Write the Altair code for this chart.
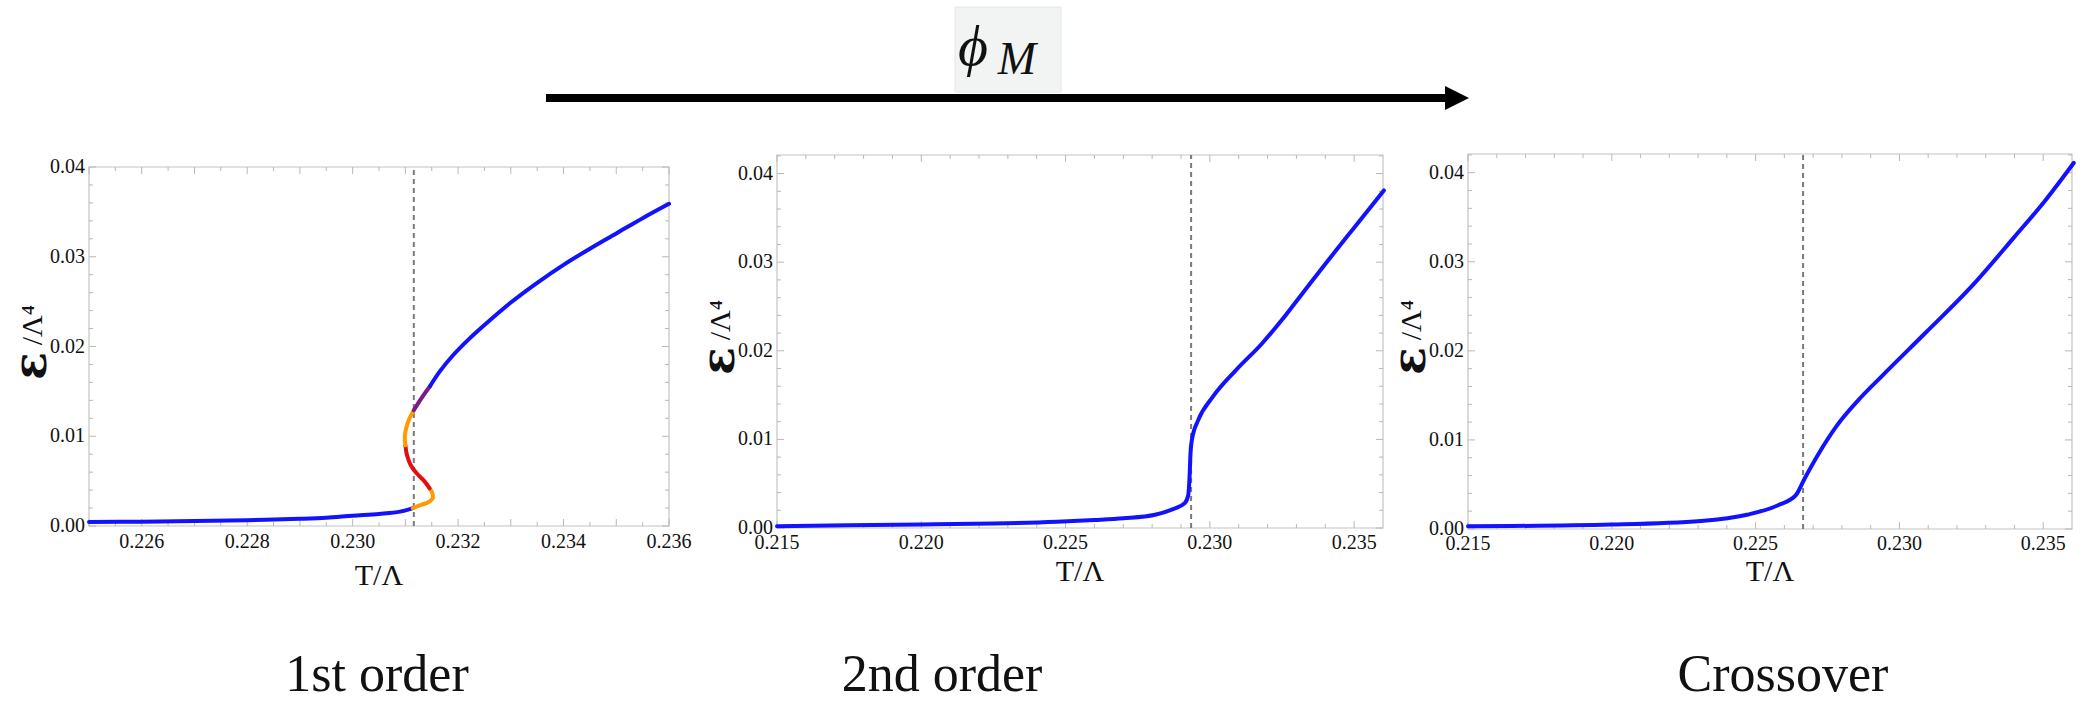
import altair as alt
import pandas as pd

FONT = "Liberation Serif"
BLUE = "#1212ff"
ORANGE = "#ff9a00"
RED = "#e01010"
PURPLE = "#7a1a8c"
FRAME = "#c4c4c4"
TICK = "#b8b8b8"
DASH = "#7a7a7a"
INK = "#111111"

# ---------------- data ----------------
# panel 1 (first order) : S-shaped curve, split in stability segments
p1_low_T = [0.2250, 0.2260, 0.2270, 0.2280, 0.2290, 0.2295, 0.2300, 0.2305, 0.2309, 0.23114]
p1_low_E = [0.00045, 0.00048, 0.00055, 0.00065, 0.00080, 0.00092, 0.00115, 0.00135, 0.00160, 0.00200]
p1_meta_lo_T = [0.23114, 0.23130, 0.23145, 0.23152, 0.23151, 0.23146]
p1_meta_lo_E = [0.00200, 0.00235, 0.00270, 0.00310, 0.00365, 0.00420]
p1_unst_T = [0.23146, 0.23136, 0.23121, 0.23110, 0.23103, 0.23100]
p1_unst_E = [0.00420, 0.00500, 0.00590, 0.00680, 0.00790, 0.00900]
p1_meta_hi_T = [0.23100, 0.23099, 0.23102, 0.23108, 0.23116]
p1_meta_hi_E = [0.00900, 0.01000, 0.01100, 0.01200, 0.01290]
p1_mix_T = [0.23116, 0.23130, 0.23147]
p1_mix_E = [0.01290, 0.01420, 0.01560]
p1_high_T = [0.23147, 0.23165, 0.23190, 0.23220, 0.23250, 0.23300, 0.23350, 0.23400,
             0.23450, 0.23500, 0.23550, 0.23600]
p1_high_E = [0.01560, 0.01720, 0.01900, 0.02080, 0.02240, 0.02490, 0.02710, 0.02910,
             0.03090, 0.03260, 0.03430, 0.03590]
p1_Tc = 0.23116

# panel 2 (second order)
p2_T = [0.2150, 0.2175, 0.2200, 0.2225, 0.2247, 0.2260, 0.2270, 0.2281, 0.2287, 0.22913,
        0.22925, 0.22930, 0.22933, 0.22938, 0.22960, 0.23010, 0.23090, 0.23180, 0.23250,
        0.23300, 0.23400, 0.23500, 0.23603]
p2_E = [0.00020, 0.00030, 0.00040, 0.00050, 0.00070, 0.00090, 0.00110, 0.00150, 0.00210, 0.00280,
        0.00370, 0.00600, 0.00850, 0.01000, 0.01220, 0.01480, 0.01780, 0.02080, 0.02350,
        0.02560, 0.02980, 0.03390, 0.03810]
p2_Tc = 0.22935

# panel 3 (crossover)
p3_T = [0.2150, 0.2200, 0.2231, 0.2247, 0.2258, 0.2264, 0.22671, 0.22718, 0.2278, 0.22858,
        0.22940, 0.2309, 0.2325, 0.2340, 0.2350, 0.23606]
p3_E = [0.00030, 0.00050, 0.00090, 0.00160, 0.00270, 0.00380, 0.00570, 0.00840, 0.01150, 0.01450,
        0.01720, 0.02200, 0.02720, 0.03280, 0.03660, 0.04110]
p3_Tc = 0.22665

p1_xlabels = [0.226, 0.228, 0.230, 0.232, 0.234, 0.236]
p1_xmajor = [0.225, 0.226, 0.227, 0.228, 0.229, 0.230, 0.231, 0.232, 0.233, 0.234, 0.235, 0.236]
p1_xminor = [0.2255, 0.2265, 0.2275, 0.2285, 0.2295, 0.2305, 0.2315, 0.2325, 0.2335, 0.2345, 0.2355]
p23_xlabels = [0.215, 0.220, 0.225, 0.230, 0.235]
p23_xminor = [0.216, 0.217, 0.218, 0.219, 0.221, 0.222, 0.223, 0.224, 0.226, 0.227, 0.228,
              0.229, 0.231, 0.232, 0.233, 0.234]
ylabels = [0.00, 0.01, 0.02, 0.03, 0.04]
yminor = [0.002, 0.004, 0.006, 0.008, 0.012, 0.014, 0.016, 0.018, 0.022, 0.024, 0.026, 0.028,
          0.032, 0.034, 0.036, 0.038, 0.042]

x_title = "T/\u039b"
y_title = ["\u03b5", "/\u039b\u2074"]
bottom_labels = ["1st order", "2nd order", "Crossover"]
arrow_label = ["\u03d5", "M"]

W, H = 2089, 701

segs = [("stable", p1_low_T, p1_low_E), ("meta", p1_meta_lo_T, p1_meta_lo_E),
        ("unstable", p1_unst_T, p1_unst_E), ("meta2", p1_meta_hi_T, p1_meta_hi_E),
        ("mix", p1_mix_T, p1_mix_E), ("stable2", p1_high_T, p1_high_E)]
rows = []
for name, ts, es in segs:
    for i, (t, e) in enumerate(zip(ts, es)):
        rows.append({"T": t, "E": e, "seg": name, "i": i})
p1_df = pd.DataFrame(rows)


def panel(curve_df, xdom, ytop, xr, yr, tc, xlabels, xmajor, xminor, colored, interp, label_dy):
    xsc = alt.Scale(domain=xdom, range=xr, nice=False, zero=False)
    ysc = alt.Scale(domain=[0, ytop], range=yr, nice=False, zero=False)
    X = lambda f: alt.X(f, scale=xsc, axis=None)
    Y = lambda f: alt.Y(f, scale=ysc, axis=None)
    x0, x1 = xdom
    frame_df = pd.DataFrame({"x0": [x0], "x1": [x1], "y0": [0.0], "y1": [ytop], "tc": [tc]})
    layers = []
    fb = alt.Chart(frame_df)
    layers.append(fb.mark_rect(fillOpacity=0, stroke=FRAME, strokeWidth=1.2).encode(
        x=X("x0:Q"), x2="x1", y=Y("y0:Q"), y2="y1"))
    # frame ticks (inward, all four sides)
    for vals, L in [(xmajor, 7), (xminor, 4)]:
        d = pd.DataFrame({"t": vals, "b": [0.0] * len(vals), "tp": [ytop] * len(vals)})
        c = alt.Chart(d)
        layers.append(c.mark_rule(color=TICK, strokeWidth=1, y2Offset=-L).encode(
            x=X("t:Q"), y=Y("b:Q"), y2="b"))
        layers.append(c.mark_rule(color=TICK, strokeWidth=1, y2Offset=L).encode(
            x=X("t:Q"), y=Y("tp:Q"), y2="tp"))
    for vals, L in [(ylabels, 7), (yminor, 4)]:
        vv = [v for v in vals if v <= ytop]
        d = pd.DataFrame({"t": vv, "l": [x0] * len(vv), "r": [x1] * len(vv)})
        c = alt.Chart(d)
        layers.append(c.mark_rule(color=TICK, strokeWidth=1, x2Offset=L).encode(
            y=Y("t:Q"), x=X("l:Q"), x2="l"))
        layers.append(c.mark_rule(color=TICK, strokeWidth=1, x2Offset=-L).encode(
            y=Y("t:Q"), x=X("r:Q"), x2="r"))
    # tick labels
    dx_ = pd.DataFrame({"t": xlabels, "b": [0.0] * len(xlabels)})
    layers.append(alt.Chart(dx_).mark_text(font=FONT, fontSize=20, color=INK, align="center",
                                           baseline="middle", dy=label_dy).encode(
        x=X("t:Q"), y=Y("b:Q"), text=alt.Text("t:Q", format=".3f")))
    dy_ = pd.DataFrame({"t": ylabels, "l": [x0] * len(ylabels)})
    layers.append(alt.Chart(dy_).mark_text(font=FONT, fontSize=20, color=INK, align="right",
                                           baseline="middle", dx=-4).encode(
        x=X("l:Q"), y=Y("t:Q"), text=alt.Text("t:Q", format=".2f")))
    # dashed transition line
    layers.append(fb.mark_rule(color=DASH, strokeWidth=2, strokeDash=[5, 4]).encode(
        x=X("tc:Q"), y=Y("y0:Q"), y2="y1"))
    # curve
    cb = alt.Chart(curve_df)
    if colored:
        line = cb.mark_line(strokeWidth=4, strokeCap="round", interpolate=interp).encode(
            x=X("T:Q"), y=Y("E:Q"),
            color=alt.Color("seg:N", legend=None,
                            scale=alt.Scale(domain=["stable", "meta", "unstable", "meta2", "mix", "stable2"],
                                            range=[BLUE, ORANGE, RED, ORANGE, PURPLE, BLUE])),
            order="i:Q")
    else:
        line = cb.mark_line(strokeWidth=4, strokeCap="round", color=BLUE, interpolate=interp).encode(
            x=X("T:Q"), y=Y("E:Q"))
    layers.append(line)
    return alt.layer(*layers)


def titles(fx, xc, cy, xt_base):
    d = pd.DataFrame({"a": [y_title[0]], "b": [y_title[1]], "x": [x_title]})
    c = alt.Chart(d)
    eps = c.mark_text(font="DejaVu Serif", fontWeight="bold", fontSize=46, angle=270,
                      align="center", baseline="middle", color=INK).encode(
        text="a:N", x=alt.value(fx - 57), y=alt.value(cy + 20))
    rest = c.mark_text(font=FONT, fontSize=30, angle=270, align="center", baseline="middle",
                       color=INK).encode(text="b:N", x=alt.value(fx - 56), y=alt.value(cy - 21))
    xt = c.mark_text(font=FONT, fontSize=30, align="center", baseline="alphabetic",
                     color=INK).encode(text="x:N", x=alt.value(xc), y=alt.value(xt_base))
    return [eps, rest, xt]


p1 = panel(p1_df, [0.225, 0.236], 0.04, [89, 669], [526, 167], p1_Tc, p1_xlabels, p1_xmajor,
           p1_xminor, True, "catmull-rom", 16)
p2 = panel(pd.DataFrame({"T": p2_T, "E": p2_E}), [0.215, 0.236], 0.0421, [777, 1383], [528, 155],
           p2_Tc, p23_xlabels, p23_xlabels, p23_xminor, False, "monotone", 15)
p3 = panel(pd.DataFrame({"T": p3_T, "E": p3_E}), [0.215, 0.236], 0.0421, [1468, 2072], [529, 154],
           p3_Tc, p23_xlabels, p23_xlabels, p23_xminor, False, "monotone", 15)

ann = []
ann += titles(89, 379, 346, 585)
ann += titles(777, 1080, 341, 581)
ann += titles(1468, 1770, 341, 581)

one = alt.Chart(pd.DataFrame({"k": [0]}))
# arrow
ann.append(one.mark_rule(color="black", strokeWidth=8).encode(
    x=alt.value(546), x2=alt.value(1448), y=alt.value(98)))
ann.append(one.mark_point(shape="M -1 -1 L 1 0 L -1 1 Z", filled=True, color="black", opacity=1,
                          size=576).encode(x=alt.value(1457), y=alt.value(98)))
ann.append(one.mark_rect(fill="#f2f4f4", stroke="#e4e8e8", strokeWidth=1).encode(
    x=alt.value(955), x2=alt.value(1061), y=alt.value(7), y2=alt.value(92)))
lab = alt.Chart(pd.DataFrame({"phi": [arrow_label[0]], "m": [arrow_label[1]]}))
ann.append(lab.mark_text(font=FONT, fontStyle="italic", fontSize=58, align="center",
                         baseline="alphabetic", color=INK).encode(
    text="phi:N", x=alt.value(973), y=alt.value(65)))
ann.append(lab.mark_text(font=FONT, fontStyle="italic", fontSize=46, align="center",
                         baseline="alphabetic", color=INK).encode(
    text="m:N", x=alt.value(1017), y=alt.value(74)))

for idx, cx in enumerate([377, 942, 1783]):
    ann.append(alt.Chart(pd.DataFrame({"name": [bottom_labels[idx]]})).mark_text(
        font=FONT, fontSize=52, align="center", baseline="alphabetic", color=INK).encode(
        text="name:N", x=alt.value(cx), y=alt.value(691)))

chart = alt.layer(p1, p2, p3, *ann).resolve_scale(
    x="independent", y="independent", color="independent"
).properties(
    width=W, height=H, autosize=alt.AutoSizeParams(type="none"), padding=0
).configure_view(strokeWidth=0)

chart.save("out.html", embed_options={"renderer": "svg", "actions": False})
